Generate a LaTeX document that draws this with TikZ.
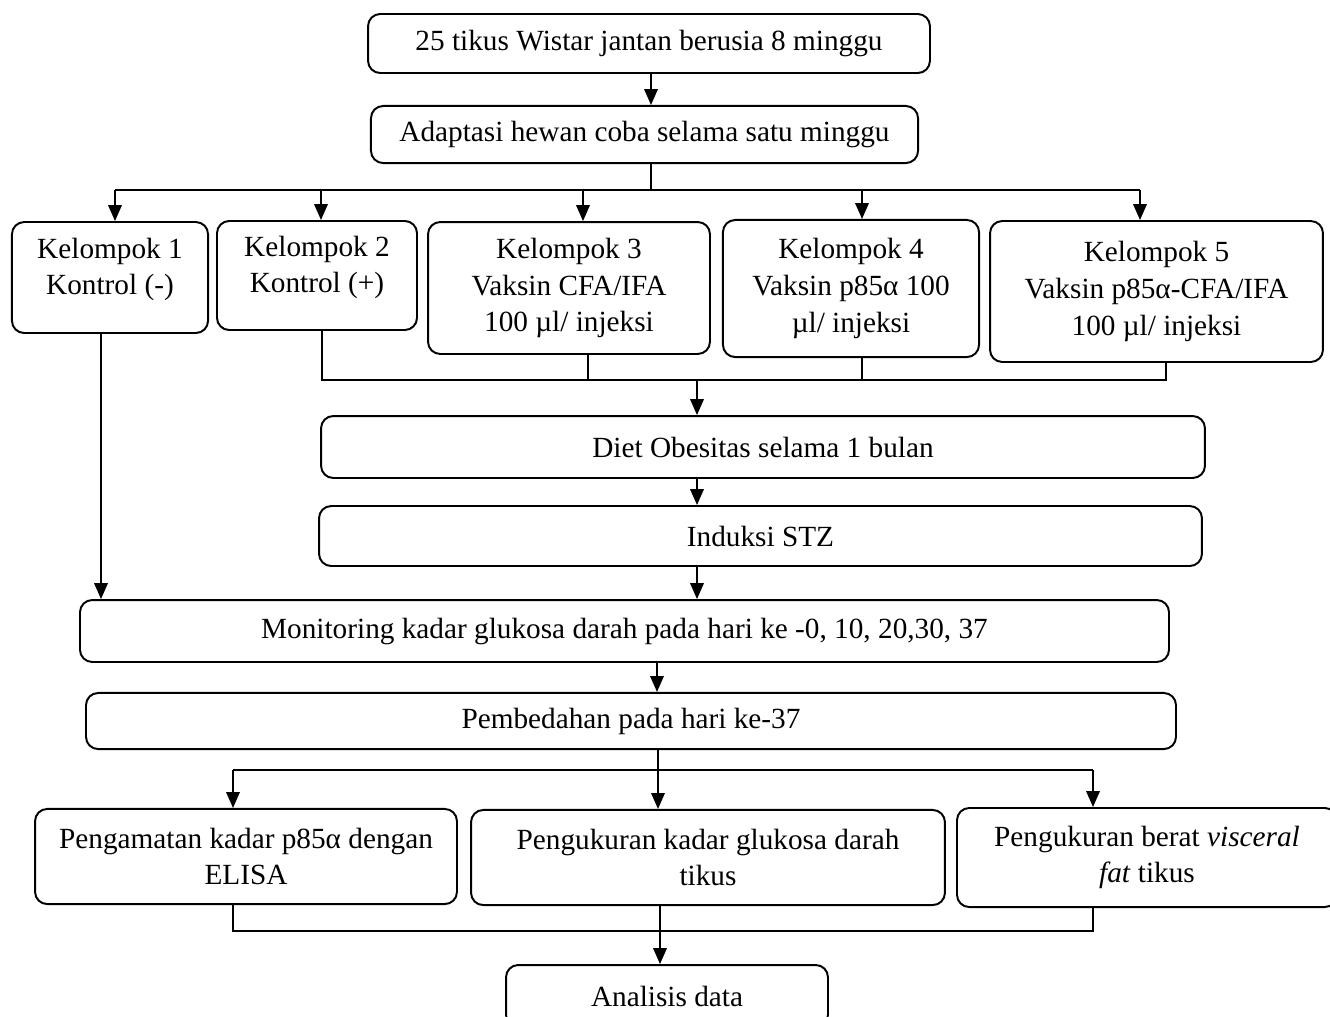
\documentclass[tikz,border=0pt]{standalone}
\usepackage{fontspec}
\setmainfont{Liberation Serif}
\usetikzlibrary{arrows.meta}

\begin{document}
\begin{tikzpicture}[
x=0.41pt, y=-0.41pt,
>={Triangle[length=6.5pt,width=5.5pt]},
font=\fontsize{12}{15}\selectfont,
box/.style={
rectangle,
rounded corners=5pt,
draw=black,
line width=0.8pt,
align=center,
fill=white,
inner sep=2pt
},
arrow/.style={
->,
line width=0.8pt,
draw=black
},
line/.style={
line width=0.8pt,
draw=black
}
]

\useasboundingbox (0,0) rectangle (1330,1016);

\node[box, minimum width=230.4pt, minimum height=24.2pt] (tikus) at (649,43.5)
{25 tikus Wistar jantan berusia 8 minggu};

\node[box, minimum width=224.3pt, minimum height=23.4pt] (adaptasi) at (644.5,134.5)
{Adaptasi hewan coba selama satu minggu};

\node[box, minimum width=80.4pt, minimum height=45.5pt] (k1) at (110,277.5)
{Kelompok 1\\Kontrol (-)\\[-6pt]};

\node[box, minimum width=82pt, minimum height=44.7pt] (k2) at (317,275.5)
{Kelompok 2\\Kontrol (+)\\[-6pt]};

\node[box, minimum width=115.6pt, minimum height=54.1pt] (k3) at (569,288)
{Kelompok 3\\Vaksin CFA/IFA\\100 µl/ injeksi};

\node[box, minimum width=105pt, minimum height=56.2pt] (k4) at (851,288.5)
{Kelompok 4\\Vaksin p85α 100\\µl/ injeksi};

\node[box, minimum width=136.5pt, minimum height=57.8pt] (k5) at (1156.5,291.5)
{Kelompok 5\\Vaksin p85α-CFA/IFA\\100 µl/ injeksi};

\node[box, minimum width=362.4pt, minimum height=25.4pt] (diet) at (763,447)
{Diet Obesitas selama 1 bulan};

\node[box, minimum width=362pt, minimum height=24.6pt] (stz) at (760.5,536)
{Induksi STZ};

\node[box, minimum width=446.5pt, minimum height=25.4pt] (monitor) at (624.5,631)
{Monitoring kadar glukosa darah pada hari ke -0, 10, 20,30, 37};

\node[box, minimum width=446.9pt, minimum height=23pt] (bedah) at (631,721)
{Pembedahan pada hari ke-37};

\node[box, minimum width=173pt, minimum height=39pt] (elisa) at (246,856.5)
{Pengamatan kadar p85α dengan\\ELISA};

\node[box, minimum width=194.3pt, minimum height=39pt] (glukosa) at (708,857.5)
{Pengukuran kadar glukosa darah\\tikus};

\node[box, minimum width=155.8pt, minimum height=40.6pt] (visceral) at (1147,857.5)
{Pengukuran berat \textit{visceral}\\\textit{fat} tikus};

\node[box, minimum width=132pt, minimum height=25.4pt] (analisis) at (667,996)
{Analisis data};

% split to the groups
\coordinate (split) at (651,190);
\coordinate (c1) at (115,190);
\coordinate (c2) at (321,190);
\coordinate (c3) at (583,190);
\coordinate (c4) at (862,190);
\coordinate (c5) at (1140,190);

\draw[arrow] (tikus.south -| split) -- (adaptasi.north -| split);
\draw[line] (adaptasi.south -| split) -- (split);
\draw[line] (c1) -- (c5);
\draw[arrow] (c1) -- (c1 |- k1.north);
\draw[arrow] (c2) -- (c2 |- k2.north);
\draw[arrow] (c3) -- (c3 |- k3.north);
\draw[arrow] (c4) -- (c4 |- k4.north);
\draw[arrow] (c5) -- (c5 |- k5.north);

% join of groups 2-5
\coordinate (j2) at (322,380);
\coordinate (j3) at (588,380);
\coordinate (j4) at (862,380);
\coordinate (j5) at (1166,380);
\coordinate (jd) at (697,380);

\draw[line] (j2 |- k2.south) -- (j2) -- (j5) -- (j5 |- k5.south);
\draw[line] (j3 |- k3.south) -- (j3);
\draw[line] (j4 |- k4.south) -- (j4);
\draw[arrow] (jd) -- (jd |- diet.north);
\draw[arrow] (jd |- diet.south) -- (jd |- stz.north);
\draw[arrow] (jd |- stz.south) -- (jd |- monitor.north);

% group 1 straight to monitoring
\coordinate (m1) at (101,600);
\draw[arrow] (m1 |- k1.south) -- (m1 |- monitor.north);

\coordinate (m2) at (657,680);
\draw[arrow] (m2 |- monitor.south) -- (m2 |- bedah.north);

% split to measurements
\coordinate (s1) at (233,770);
\coordinate (s2) at (658,770);
\coordinate (s3) at (1093,770);

\draw[arrow] (s2 |- bedah.south) -- (s2 |- glukosa.north);
\draw[line] (s1) -- (s3);
\draw[arrow] (s1) -- (s1 |- elisa.north);
\draw[arrow] (s3) -- (s3 |- visceral.north);

% join to analysis
\coordinate (r1) at (233,931);
\coordinate (r2) at (660,931);
\coordinate (r3) at (1093,931);

\draw[line] (r1 |- elisa.south) -- (r1) -- (r3) -- (r3 |- visceral.south);
\draw[line] (r2 |- glukosa.south) -- (r2);
\draw[arrow] (r2) -- (r2 |- analisis.north);

\end{tikzpicture}
\end{document}
